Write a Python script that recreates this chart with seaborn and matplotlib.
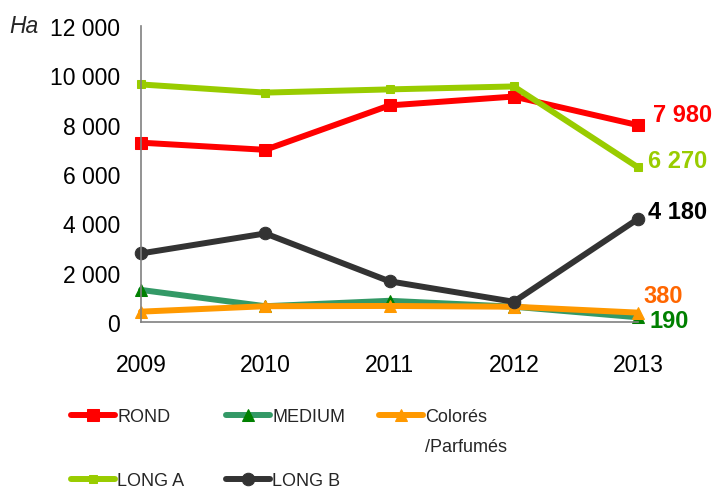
import matplotlib
matplotlib.use("Agg")
import matplotlib.pyplot as plt
import seaborn as sns
import pandas as pd

# ---- data ----
years = [2009, 2010, 2011, 2012, 2013]
rond = [7270, 6980, 8780, 9140, 7980]
medium = [1300, 640, 860, 620, 190]
colores = [420, 640, 650, 620, 380]
long_a = [9630, 9300, 9430, 9550, 6270]
long_b = [2780, 3590, 1650, 820, 4180]
names = ["ROND", "MEDIUM", "Colorés", "LONG A", "LONG B"]
yticks = [0, 2000, 4000, 6000, 8000, 10000, 12000]
unit_label = "Ha"

values = {"ROND": rond, "MEDIUM": medium, "Colorés": colores,
          "LONG A": long_a, "LONG B": long_b}

# ---- styles ----
line_colors = {"ROND": "#FF0000", "MEDIUM": "#339966", "Colorés": "#FF9900",
               "LONG A": "#99CC00", "LONG B": "#333333"}
marker_colors = {"ROND": "#FF0000", "MEDIUM": "#008000", "Colorés": "#FF9900",
                 "LONG A": "#99CC00", "LONG B": "#333333"}
markers = {"ROND": "s", "MEDIUM": "^", "Colorés": "^", "LONG A": "s", "LONG B": "o"}
msizes = {"ROND": 9, "MEDIUM": 9, "Colorés": 9, "LONG A": 6, "LONG B": 9}
label_colors = {"ROND": "#FF0000", "MEDIUM": "#008000", "Colorés": "#FF6600",
                "LONG A": "#99CC00", "LONG B": "#000000"}
label_offsets = {"ROND": (11, 8), "MEDIUM": (8, -2), "Colorés": (4, 12),
                 "LONG A": (7, 5), "LONG B": (7, 5)}

sns.set_style("white")
plt.rcParams["font.family"] = ["Liberation Sans", "DejaVu Sans"]

fig = plt.figure(figsize=(7.15, 4.89), dpi=100)
ax = fig.add_axes([141 / 715, 1 - 323 / 489, 497 / 715, 296 / 489])

df = pd.DataFrame([(n, y, v) for n in names for y, v in zip(years, values[n])],
                  columns=["serie", "year", "ha"])

for n in names:
    sub = df[df["serie"] == n]
    sns.lineplot(data=sub, x="year", y="ha", ax=ax, color=line_colors[n],
                 linewidth=4.3, marker=markers[n], markersize=msizes[n],
                 markerfacecolor=marker_colors[n], markeredgecolor=marker_colors[n],
                 label=n, clip_on=False)

# end value labels
for n in names:
    v = values[n][-1]
    ax.annotate(f"{v:,}".replace(",", " "), xy=(years[-1], v),
                xytext=label_offsets[n], textcoords="offset points",
                ha="left", va="center", fontsize=17, fontweight="bold",
                color=label_colors[n], annotation_clip=False)

ax.set_xlim(years[0], years[-1])
ax.set_ylim(yticks[0], yticks[-1])
ax.set_xticks(years)
ax.set_xticklabels([str(y) for y in years])
ax.set_yticks(yticks)
ax.set_yticklabels([f"{t:,}".replace(",", " ") for t in yticks])
ax.set_xlabel("")
ax.set_ylabel("")

for s in ["top", "right"]:
    ax.spines[s].set_visible(False)
for s in ["left", "bottom"]:
    ax.spines[s].set_color("#808080")
    ax.spines[s].set_linewidth(1.2)

ax.tick_params(axis="both", direction="in", length=4.5, width=1.0,
               color="#808080", labelsize=16.5, labelcolor="black")
ax.tick_params(axis="x", pad=22)
ax.tick_params(axis="y", pad=15)

ax.text(-0.265, 1.0, unit_label, transform=ax.transAxes, fontsize=16.5,
        fontstyle="italic", ha="left", va="center")

# legend, in three columns
ax.get_legend().remove()
handles, labels = ax.get_legend_handles_labels()
hmap = dict(zip(labels, handles))
leg_font = {"family": ["Liberation Sans", "DejaVu Sans"], "size": 13}
cols = [(["ROND", "LONG A"], 71), (["MEDIUM", "LONG B"], 226), (["Colorés"], 379)]
for items, xpix in cols:
    fig.legend([hmap[i] for i in items], items, loc="upper left",
               bbox_to_anchor=(xpix / 715, 1 - 409 / 489), frameon=False,
               prop=leg_font, handlelength=2.45, handletextpad=0.1,
               labelspacing=2.6, borderpad=0, borderaxespad=0)
fig.text(425 / 715, 1 - 447 / 489, "/Parfumés",
         family=["Liberation Sans", "DejaVu Sans"], fontsize=13,
         ha="left", va="center")

fig.savefig("out.png", dpi=100)
